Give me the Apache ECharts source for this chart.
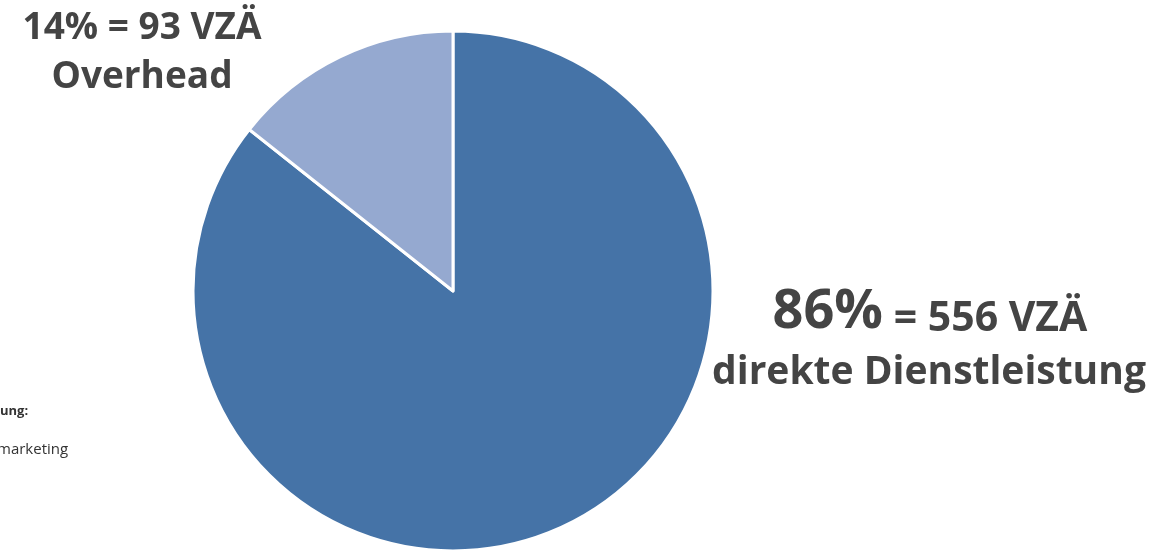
<!DOCTYPE html>
<html>
<head>
<meta charset="utf-8">
<script src="https://cdn.jsdelivr.net/npm/echarts@6/dist/echarts.min.js"></script>
<style>
html,body{margin:0;padding:0;background:#fff;}
#chart{width:1158px;height:550px;}
</style>
</head>
<body>
<div id="chart"></div>
<script>
var categories = ['direkte Dienstleistung', 'Overhead'];
var values = [556, 93];
var unit = 'VZÄ';
var colors = ['#4573a7', '#95a9d0'];
var sideNotes = ['ung:', 'marketing'];

var total = values.reduce(function (a, b) { return a + b; }, 0);
function pct(v) { return Math.round(v / total * 100) + '%'; }

var chart = echarts.init(document.getElementById('chart'), null, { renderer: 'canvas' });
var textColor = '#444444';
var font = '"Open Sans", sans-serif';
var weight = 'bold';

function txt(x, y, text, size, extra) {
  var s = { text: text, fill: textColor, font: weight + ' ' + size + 'px ' + font,
    align: 'center', verticalAlign: 'bottom' };
  if (extra) { for (var k in extra) s[k] = extra[k]; }
  return { type: 'text', x: x, y: y, style: s };
}

chart.setOption({
  animation: false,
  backgroundColor: '#fff',
  series: [{
    type: 'pie',
    center: [453, 291],
    radius: [0, 260],
    startAngle: 90,
    clockwise: true,
    label: { show: false },
    labelLine: { show: false },
    silent: true,
    itemStyle: { borderColor: '#fff', borderWidth: 3 },
    data: categories.map(function (c, i) {
      return { name: c, value: values[i], itemStyle: { color: colors[i] } };
    })
  }],
  graphic: [
    txt(142, 47, pct(values[1]) + ' = ' + values[1] + ' ' + unit, 37),
    txt(142, 96, categories[1], 37),
    txt(930, 340, '{a|' + pct(values[0]) + '}{b| = ' + values[0] + ' ' + unit + '}', 0, {
      rich: {
        a: { fill: textColor, font: 'bold 54px ' + font, verticalAlign: 'bottom' },
        b: { fill: textColor, font: 'bold 41px ' + font, verticalAlign: 'bottom' }
      }
    }),
    txt(929, 392, categories[0], 39),
    { type: 'text', x: 0, y: 418, style: { text: sideNotes[0], fill: '#333',
      font: 'bold 13px ' + font, align: 'left', verticalAlign: 'bottom' } },
    { type: 'text', x: -3, y: 457, style: { text: sideNotes[1], fill: '#333',
      font: '15px ' + font, align: 'left', verticalAlign: 'bottom' } }
  ]
});
</script>
</body>
</html>
